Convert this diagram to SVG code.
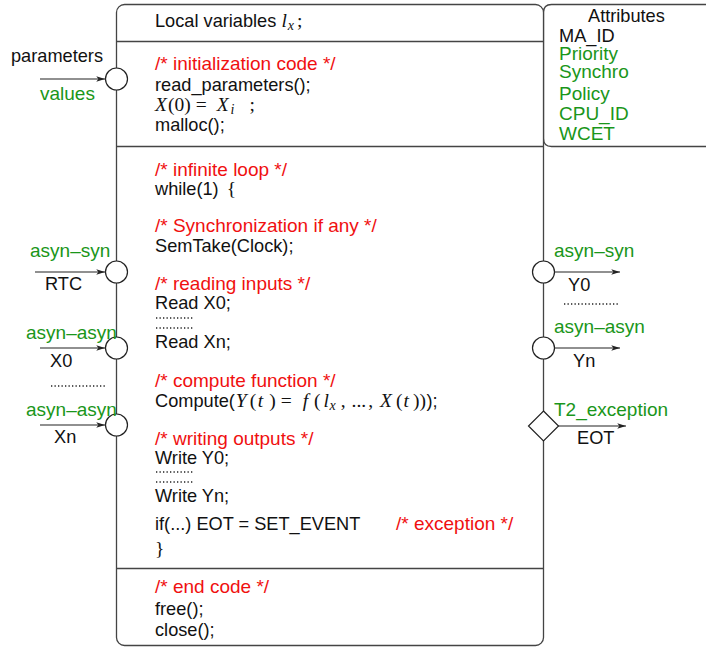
<svg xmlns="http://www.w3.org/2000/svg" width="706" height="648" viewBox="0 0 706 648">
<style>
text{font-family:"Liberation Sans",Arial,sans-serif;font-size:18.2px;fill:#111}
.g{fill:#1a961a;font-size:19px}
.r{fill:#f01010;font-size:19px}
.m{font-family:"Liberation Serif","Times New Roman",serif;font-style:italic;font-size:19.5px}
.n{font-family:"Liberation Serif","Times New Roman",serif;font-style:normal;font-size:19.5px}
.sub{font-size:14px}
.box{fill:#fff;stroke:#444;stroke-width:1.3}
.sep{stroke:#444;stroke-width:1.3}
.port{fill:#fff;stroke:#222;stroke-width:1.2}
.con{stroke:#222;stroke-width:1.1;fill:none;marker-end:url(#ah)}
.dots{stroke:#222;stroke-width:1.3;stroke-dasharray:1.3 2.2}
</style>
<defs>
<marker id="ah" viewBox="0 0 10 8" refX="10" refY="4" markerWidth="9" markerHeight="7" markerUnits="userSpaceOnUse" orient="auto">
<path d="M0,0.8 L10,4 L0,7.2 L2.5,4 z" fill="#222"/>
</marker>
</defs>

<g id="attributes">
<path class="box" d="M720,4.5 H551.5 Q543.5,4.5 543.5,12.5 V138.5 Q543.5,146.5 551.5,146.5 H720"/>
<text x="588" y="22">Attributes</text>
<text x="559" y="42">MA_ID</text>
<text class="g" x="559" y="60">Priority</text>
<text class="g" x="559" y="78">Synchro</text>
<text class="g" x="559" y="100">Policy</text>
<text class="g" x="559" y="120">CPU_ID</text>
<text class="g" x="559" y="140">WCET</text>
</g>

<g id="task">
<rect class="box" x="116.5" y="4.5" width="427" height="641" rx="8"/>
<line class="sep" x1="116.5" y1="41.5" x2="543.5" y2="41.5"/>
<line class="sep" x1="116.5" y1="146.5" x2="543.5" y2="146.5"/>
<line class="sep" x1="116.5" y1="568.5" x2="543.5" y2="568.5"/>
<text x="155" y="27">Local variables <tspan class="m">l</tspan><tspan class="m sub" dx="1" dy="3">x</tspan><tspan class="n" dx="3" dy="-3">;</tspan></text>
<text class="r" x="155" y="70">/* initialization code */</text>
<text x="155" y="91">read_parameters();</text>
<text x="155" y="111"><tspan class="m">X</tspan><tspan class="n" dx="1">(0)</tspan><tspan class="n" dx="5">=</tspan><tspan class="m" dx="10">X</tspan><tspan class="m sub" dx="2" dy="3">i</tspan><tspan class="n" dx="15" dy="-3">;</tspan></text>
<text x="155" y="131">malloc();</text>
<text class="r" x="155" y="176">/* infinite loop */</text>
<text x="155" y="195">while(1)<tspan class="n" dx="8">{</tspan></text>
<text class="r" x="155" y="232">/* Synchronization if any */</text>
<text x="155" y="252">SemTake(Clock);</text>
<text class="r" x="155" y="290">/* reading inputs */</text>
<text x="155" y="309">Read X0;</text>
<line class="dots" x1="156" y1="318" x2="194" y2="318"/>
<line class="dots" x1="156" y1="328" x2="194" y2="328"/>
<text x="155" y="348">Read Xn;</text>
<text class="r" x="155" y="387">/* compute function */</text>
<text x="155" y="407">Compute(<tspan class="m" dx="1">Y</tspan><tspan class="n" dx="3">(</tspan><tspan class="m" dx="1.5">t</tspan><tspan class="n" dx="6">)</tspan><tspan class="n" dx="5">=</tspan><tspan class="m" dx="11">f</tspan><tspan class="n" dx="6">(</tspan><tspan class="m" dx="3">l</tspan><tspan class="m sub" dx="0.5" dy="3">x</tspan><tspan class="n" dx="5" dy="-3">,</tspan><tspan class="n" dx="6">...</tspan><tspan class="n" dx="2">,</tspan><tspan class="m" dx="7">X</tspan><tspan class="n" dx="4">(</tspan><tspan class="m" dx="1">t</tspan><tspan class="n" dx="4">))</tspan><tspan dx="0.5">);</tspan></text>
<text class="r" x="155" y="445">/* writing outputs */</text>
<text x="155" y="464">Write Y0;</text>
<line class="dots" x1="156" y1="472" x2="194" y2="472"/>
<line class="dots" x1="156" y1="482" x2="194" y2="482"/>
<text x="155" y="502">Write Yn;</text>
<text x="155" y="530">if(...) EOT = SET_EVENT</text>
<text class="r" x="396" y="530">/* exception */</text>
<text class="n" x="155" y="555">}</text>
<text class="r" x="155" y="593">/* end code */</text>
<text x="155" y="615">free();</text>
<text x="155" y="636">close();</text>
</g>

<g id="connectors">
<line class="con" x1="40" y1="79" x2="105" y2="79"/>
<line class="con" x1="35" y1="272" x2="105" y2="272"/>
<line class="con" x1="40" y1="348" x2="105" y2="348"/>
<line class="con" x1="40" y1="425" x2="105" y2="425"/>
<line class="con" x1="554" y1="272" x2="620" y2="272"/>
<line class="con" x1="554" y1="348" x2="620" y2="348"/>
<line class="con" x1="558" y1="426" x2="626" y2="426"/>
</g>

<g id="port-parameters">
<circle class="port" cx="116.5" cy="79" r="11"/>
<text x="11" y="62">parameters</text>
<text class="g" x="40" y="100">values</text>
</g>
<g id="port-rtc">
<circle class="port" cx="116.5" cy="272" r="11"/>
<text class="g" x="30" y="257">asyn–syn</text>
<text x="45" y="290">RTC</text>
</g>
<g id="port-x0">
<circle class="port" cx="116.5" cy="348" r="11"/>
<text class="g" x="26" y="339">asyn–asyn</text>
<text x="50" y="367">X0</text>
</g>
<line class="dots" x1="51" y1="386" x2="106" y2="386"/>
<g id="port-xn">
<circle class="port" cx="116.5" cy="425" r="11"/>
<text class="g" x="26" y="416">asyn–asyn</text>
<text x="54" y="443">Xn</text>
</g>
<g id="port-y0">
<circle class="port" cx="543.5" cy="272" r="11"/>
<text class="g" x="554" y="257">asyn–syn</text>
<text x="568" y="291">Y0</text>
</g>
<line class="dots" x1="564" y1="304" x2="619" y2="304"/>
<g id="port-yn">
<circle class="port" cx="543.5" cy="348" r="11"/>
<text class="g" x="554" y="333">asyn–asyn</text>
<text x="573" y="367">Yn</text>
</g>
<g id="port-eot">
<path class="port" d="M543.5,411 L558.5,426 L543.5,441 L528.5,426 Z"/>
<text class="g" x="554" y="416">T2_exception</text>
<text x="577" y="444">EOT</text>
</g>
</svg>
